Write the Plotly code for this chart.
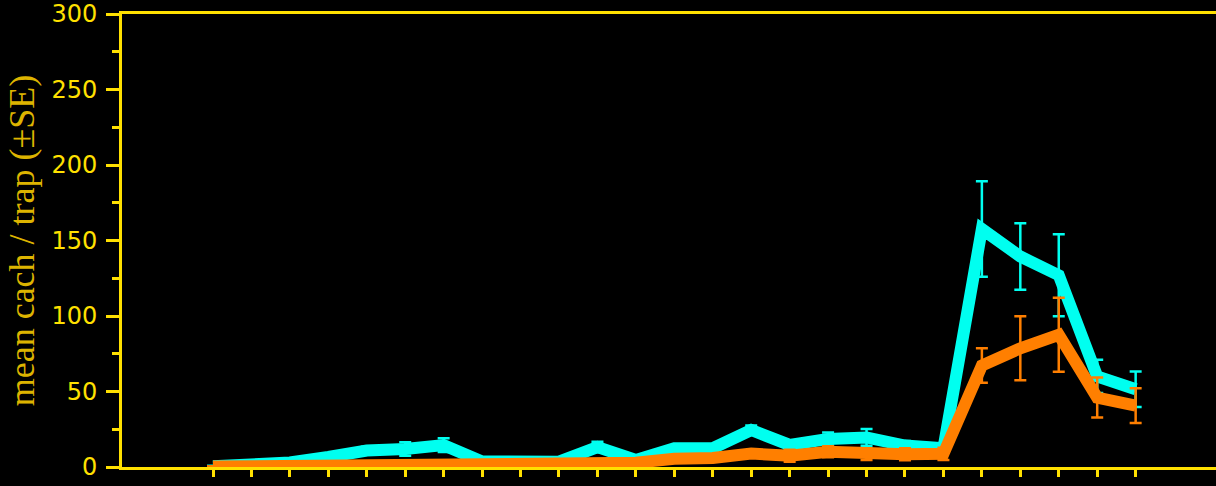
import plotly.graph_objects as go

# sampling occasions (25 dates, unlabeled on the x axis)
occasion = list(range(1, 26))

cyan_mean = [0.5, 1.5, 3.0, 6.6, 10.9, 11.9, 14.5, 3.6, 3.6, 3.5, 13.2, 4.7, 12.4,
             12.4, 24.5, 14.6, 18.6, 19.6, 14.2, 12.4, 157.6, 139.4, 127.0, 60.0, 51.5]
cyan_se = [0.3, 0.5, 0.8, 1.5, 2.5, 4.5, 4.5, 1.0, 1.0, 1.0, 3.5, 1.5, 2.0,
           2.0, 3.0, 2.5, 4.3, 5.6, 3.0, 2.5, 31.6, 22.0, 27.2, 11.0, 11.8]

orange_mean = [0.3, 0.5, 0.7, 1.0, 1.2, 2.0, 2.3, 1.6, 1.5, 1.2, 2.0, 2.8, 5.5,
               6.0, 8.9, 7.4, 10.1, 8.5, 8.5, 8.7, 67.2, 78.6, 87.6, 46.0, 40.7]
orange_se = [0.2, 0.3, 0.4, 0.5, 0.6, 0.8, 0.8, 0.6, 0.6, 0.5, 0.8, 1.0, 1.5,
             1.5, 2.0, 4.0, 3.7, 3.9, 4.0, 4.0, 11.4, 21.2, 24.5, 13.2, 11.5]

AXIS = "#FFE000"
TITLE = "#DDB400"

fig = go.Figure()
fig.add_trace(go.Scatter(
    x=occasion, y=cyan_mean, mode="lines",
    line=dict(color="#00FFF0", width=12),
    error_y=dict(type="data", array=cyan_se, visible=True,
                 color="#00FFF0", thickness=2.5, width=6),
    showlegend=False,
))
fig.add_trace(go.Scatter(
    x=occasion, y=orange_mean, mode="lines",
    line=dict(color="#FF7F00", width=12),
    error_y=dict(type="data", array=orange_se, visible=True,
                 color="#FF7F00", thickness=2.5, width=6),
    showlegend=False,
))

fig.update_layout(
    width=1216, height=486,
    margin=dict(l=122, r=0, t=12, b=19),
    paper_bgcolor="black", plot_bgcolor="black",
    showlegend=False,
)
fig.update_xaxes(
    range=[-1.367, 27.09],
    tickmode="array", tickvals=occasion, showticklabels=False,
    ticks="outside", ticklen=7, tickwidth=2.5, tickcolor=AXIS,
    showline=True, linecolor=AXIS, linewidth=3, mirror=True,
    showgrid=False, zeroline=False,
)
fig.update_yaxes(
    range=[0, 300], tickmode="linear", tick0=0, dtick=50,
    ticks="outside", ticklen=13, tickwidth=2.5, tickcolor=AXIS,
    minor=dict(dtick=25, ticks="outside", ticklen=7, tickwidth=2.5, tickcolor=AXIS, showgrid=False),
    tickfont=dict(family="DejaVu Sans", size=24, color=AXIS),
    ticklabelstandoff=4, ticklabeloverflow="allow",
    showline=True, linecolor=AXIS, linewidth=3,
    showgrid=False, zeroline=False,
    title=dict(text="mean cach / trap (±SE)", standoff=6,
               font=dict(family="Liberation Serif", size=36, color=TITLE)),
)

fig.write_html(
    "out.html",
    config={"displayModeBar": False},
    post_script="document.body.style.margin='0';document.body.style.background='black';",
)
